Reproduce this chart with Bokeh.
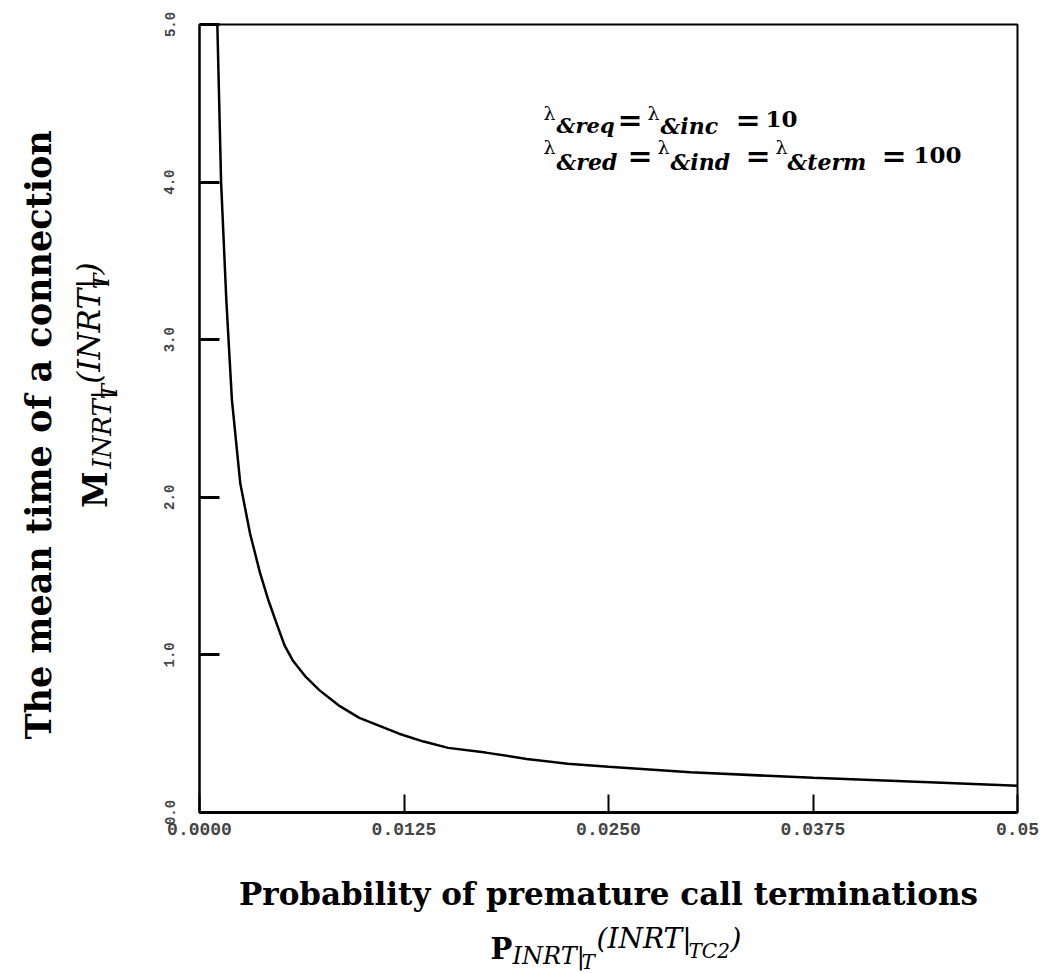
import math
from bokeh.plotting import figure
from bokeh.models import Range1d, FixedTicker, Label
from bokeh.layouts import column, row
from bokeh.core.properties import value
from bokeh.embed import file_html
from bokeh.resources import INLINE

# Data
prob = [0.00109, 0.00132, 0.00164, 0.00198, 0.00249, 0.00309, 0.0037, 0.0042,
        0.00471, 0.0052, 0.0057, 0.0065, 0.00734, 0.0085, 0.00977, 0.011, 0.0122,
        0.0137, 0.0152, 0.0175, 0.020, 0.0225, 0.025, 0.030, 0.0375, 0.045, 0.050]
mean_time = [5.0, 4.0, 3.25, 2.62, 2.09, 1.77, 1.52, 1.35,
             1.20, 1.06, 0.965, 0.86, 0.775, 0.68, 0.60, 0.55, 0.50,
             0.45, 0.41, 0.38, 0.34, 0.31, 0.29, 0.255, 0.22, 0.19, 0.17]
x_ticks = [0.0, 0.0125, 0.025, 0.0375, 0.05]
x_tick_labels = ["0.0000", "0.0125", "0.0250", "0.0375", "0.05"]
y_ticks = [0, 1, 2, 3, 4, 5]
y_tick_labels = ["0.0", "1.0", "2.0", "3.0", "4.0", "5.0"]

W, H = 1050, 973
LW = 130                 # width of the left title strip
FL, FT, FW, FH = 199, 24, 818, 788   # frame position in the page
BM = 52                  # bottom border of main figure
MH = FT + FH + BM        # main figure height
BH = H - MH              # bottom title strip height

p = figure(width=W - LW, height=MH, output_backend="svg", toolbar_location=None,
           x_range=Range1d(0, 0.05), y_range=Range1d(0, 5.0),
           min_border_left=FL - LW, min_border_right=W - FL - FW,
           min_border_top=FT, min_border_bottom=BM)
p.background_fill_color = "white"
p.border_fill_color = "white"
p.outline_line_color = "black"
p.outline_line_width = 2
p.xgrid.visible = False
p.ygrid.visible = False

p.line(prob, mean_time, line_color="black", line_width=2.5)

tick_font = "Liberation Mono"
p.xaxis.ticker = FixedTicker(ticks=x_ticks)
p.xaxis.major_label_overrides = {v: s for v, s in zip(x_ticks, x_tick_labels)}
p.xaxis.axis_line_width = 3
p.xaxis.major_tick_in = 18
p.xaxis.major_tick_out = 0
p.xaxis.major_tick_line_width = 2
p.xaxis.minor_tick_line_color = None
p.xaxis.major_label_text_font = tick_font
p.xaxis.major_label_text_font_style = "bold"
p.xaxis.major_label_text_font_size = "18px"
p.xaxis.major_label_standoff = 10

p.yaxis.ticker = FixedTicker(ticks=y_ticks)
p.yaxis.major_label_overrides = {v: s for v, s in zip(y_ticks, y_tick_labels)}
p.yaxis.axis_line_width = 2
p.yaxis.major_tick_in = 20
p.yaxis.major_tick_out = 0
p.yaxis.major_tick_line_width = 3
p.yaxis.minor_tick_line_color = None
p.yaxis.major_label_orientation = "vertical"
p.yaxis.major_label_text_font = tick_font
p.yaxis.major_label_text_font_style = "bold"
p.yaxis.major_label_text_font_size = "14px"
p.yaxis.major_label_standoff = 25


def lab(text, cx, cy, size, style="normal", font="DejaVu Serif"):
    """Text inside the plot frame, at page pixel (cx, cy) = left end of baseline."""
    p.add_layout(Label(x=cx - FL, y=(FT + FH) - cy, x_units="screen", y_units="screen",
                       text=text, text_font=font, text_font_size=f"{size}px",
                       text_font_style=style, text_color="black",
                       text_align="left", text_baseline="alphabetic"))


# parameter annotation inside the plot
lab("\u03bb", 543, 112, 19)
lab("&req", 556, 125, 21, "bold italic")
lab("=", 617, 119, 30, "bold")
lab("\u03bb", 647, 112, 19)
lab("&inc", 660, 125, 22, "bold italic")
lab("=", 735, 119, 30, "bold")
lab("10", 765, 118, 23, "bold")

lab("\u03bb", 543, 146, 19)
lab("&red", 556, 161, 22, "bold italic")
lab("=", 627, 155, 30, "bold")
lab("\u03bb", 657, 146, 19)
lab("&ind", 670, 161, 22, "bold italic")
lab("=", 745, 155, 30, "bold")
lab("\u03bb", 775, 146, 19)
lab("&term", 787, 161, 22, "bold italic")
lab("=", 881, 155, 30, "bold")
lab("100", 913, 154, 23, "bold")


def strip(w, h):
    f = figure(width=w, height=h, output_backend="svg", toolbar_location=None,
               x_range=Range1d(0, w), y_range=Range1d(h, 0),
               x_axis_type=None, y_axis_type=None, min_border=0)
    f.outline_line_color = None
    f.background_fill_color = "white"
    f.border_fill_color = "white"
    return f


def txt(f, text, x, y, size, style="normal", angle=0.0, align="left", baseline="alphabetic",
        font="DejaVu Serif"):
    f.text(x=[x], y=[y], text=[text], text_font=value(font), text_font_size=value(f"{size}px"),
           text_font_style=value(style), text_color="black", angle=angle,
           text_align=align, text_baseline=baseline)


V = math.pi / 2

# left strip: y axis title (page coords == strip coords here)
left = strip(LW, MH)
txt(left, "The mean time of a connection", 38, 450, 35, "bold", V, "center", "middle")
txt(left, "M", 95, 530, 33, "bold", V)
txt(left, "INRT|", 101, 487, 26, "italic", V)
txt(left, "T", 108, 411, 23, "italic", V)
txt(left, "(INRT|", 88, 394, 31, "italic", V)
txt(left, "T", 100, 290, 23, "italic", V)
txt(left, ")", 88, 274, 31, "italic", V)

# bottom strip: x axis title (y offset by MH)
bottom = strip(W, BH)
txt(bottom, "Probability of premature call terminations", 608, 893 - MH, 31, "bold", 0,
    "center", "middle")
txt(bottom, "P", 490, 948 - MH, 29, "bold")
txt(bottom, "INRT|", 512, 955 - MH, 24, "italic")
txt(bottom, "T", 581, 961 - MH, 20, "italic")
txt(bottom, "(INRT|", 596, 938 - MH, 28, "italic")
txt(bottom, "TC2", 688, 950 - MH, 20, "italic")
txt(bottom, ")", 730, 938 - MH, 28, "italic")

layout = column(row(left, p, spacing=0), bottom, spacing=0)

open("out.html", "w").write(file_html(layout, INLINE))
